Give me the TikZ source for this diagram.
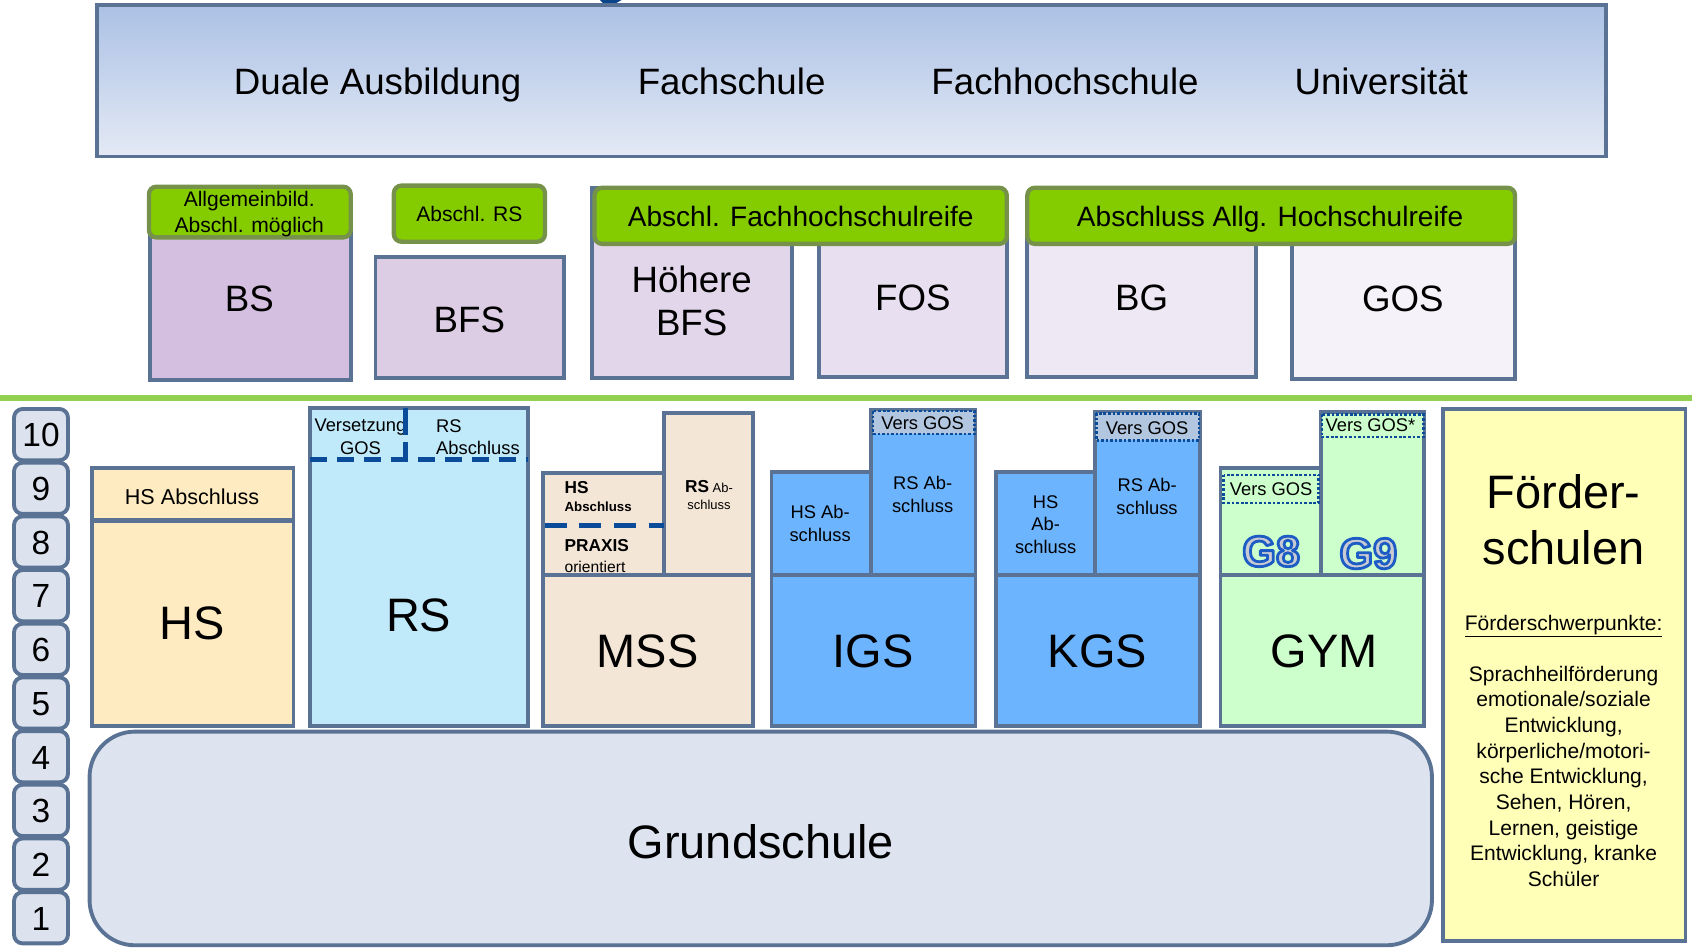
\documentclass[tikz,border=0pt]{standalone}
\usepackage{fontspec}
\setmainfont{Liberation Sans}
\usetikzlibrary{calc}
\definecolor{bord}{HTML}{5A7394}
\definecolor{labfill}{HTML}{84CC00}
\definecolor{labdraw}{HTML}{76924A}
\definecolor{topA}{HTML}{ABC1E5}
\definecolor{topB}{HTML}{E4EAF5}
\definecolor{cBS}{HTML}{D5BFE0}
\definecolor{cBFS}{HTML}{DCCCE4}
\definecolor{cHBFS}{HTML}{E2D6EB}
\definecolor{cFOS}{HTML}{E8E0F0}
\definecolor{cBG}{HTML}{EEE8F4}
\definecolor{cGOS}{HTML}{F5F3F9}
\definecolor{gline}{HTML}{92D050}
\definecolor{cnum}{HTML}{DCE3EF}
\definecolor{cHS}{HTML}{FFEBC1}
\definecolor{cRS}{HTML}{C0E9FA}
\definecolor{cMSS}{HTML}{F4E6D7}
\definecolor{cIGS}{HTML}{6DB4FF}
\definecolor{cVers}{HTML}{B3C6E0}
\definecolor{cGYM}{HTML}{CCFFCC}
\definecolor{cFoe}{HTML}{FFFFB8}
\definecolor{cGS}{HTML}{DDE4F0}
\definecolor{dblue}{HTML}{0B4C9A}
\definecolor{ggray}{HTML}{C9CAD3}
\newcommand\fs[2]{\fontsize{#1}{#2}\selectfont}
\newcommand\outl[1]{\special{pdf:literal direct 0.11 0.36 0.77 RG 2.6 w 1 j 2 Tr}#1\special{pdf:literal direct 0 Tr}}
\tikzset{
  box/.style={draw=bord, line width=3.6pt},
  lab/.style={draw=labdraw, fill=labfill, line width=4pt, rounded corners=7pt},
  numbox/.style={draw=bord, fill=cnum, line width=3.6pt, rounded corners=8pt},
  bluedash/.style={draw=dblue, line width=5pt, dash pattern=on 16pt off 9pt},
  versbox/.style={draw=dblue, line width=2.4pt, dash pattern=on 2.4pt off 1.8pt},
  big/.style={font=\fs{43.5}{52}},
  mid/.style={font=\fs{34}{40}},
  small/.style={font=\fs{17}{21}},
  gtxt/.style={font=\fs{40}{42}\bfseries, text=ggray},
  every node/.style={inner sep=0pt}
}
\begin{document}
\begin{tikzpicture}[x=1pt,y=-1pt]
\useasboundingbox (0,0) rectangle (1568,878.5);
% top fragment
\fill[dblue!90!black] (556,0) -- (576,0) -- (569,4) -- (560,4) -- cycle;
% top box
\draw[box, top color=topA, bottom color=topB] (90,5) rectangle (1488,145);
\node[mid, anchor=base] (duale) at (350,88) {Duale Ausbildung};
\node[mid, anchor=base] (fachs) at (678,88) {Fachschule};
\node[mid, anchor=base] (fhs) at (987,88) {Fachhochschule};
\node[mid, anchor=base] (uni) at (1280,88) {Universität};
% middle row
\draw[box, fill=cBS] (139,215) rectangle (325,352);
\draw[lab] (138,173) rectangle (325,220);
\node[font=\fs{19.5}{24}, align=center] (bslab) at (231,198) {Allgemeinbild.\\Abschl. möglich};
\node[mid] (bs) at (231,277) {BS};
\draw[box, fill=cBFS] (348,238) rectangle (523,350);
\draw[lab] (365,172) rectangle (505,224);
\node[font=\fs{19.5}{24}] (bfslab) at (435,198) {Abschl. RS};
\node[mid] (bfs) at (435,296) {BFS};
\draw[box, fill=cHBFS] (549,174) rectangle (734,350);
\draw[box, fill=cFOS] (759,215) rectangle (933,349);
\draw[lab] (551,174) rectangle (933,226);
\node[font=\fs{26}{30}, anchor=base] (fhlab) at (742,209.5) {Abschl. Fachhochschulreife};
\node[mid, align=center] (hbfs) at (641,279) {Höhere\\BFS};
\node[mid] (fos) at (846,276) {FOS};
\draw[box, fill=cBG] (952,215) rectangle (1164,349);
\draw[box, fill=cGOS] (1197,215) rectangle (1404,351);
\draw[lab] (952,174) rectangle (1404,226);
\node[font=\fs{26}{30}, anchor=base] (ahlab) at (1177,209.5) {Abschluss Allg. Hochschulreife};
\node[mid] (bg) at (1058,276) {BG};
\node[mid] (gos) at (1300,277) {GOS};
% green line
\draw[gline, line width=6pt] (0,369) -- (1568,369);
% grade numbers
\foreach \n in {1,...,10}{
  \pgfmathsetmacro\t{378+(10-\n)*49.75}
  \draw[numbox] (13,\t+1) rectangle (63,\t+48.5);
  \node[font=\fs{31}{34}] (n\n) at (38,\t+25.5) {\n};
}
% HS
\draw[box, fill=cHS] (85,434) rectangle (272,673);
\draw[bord, line width=4.5pt] (85,482) -- (272,482);
\node[font=\fs{20}{24}] (hsab) at (178,460) {HS Abschluss};
\node[big] (hs) at (178,578) {HS};
% RS
\draw[box, fill=cRS] (287,378) rectangle (489,673);
\node[small, align=center] (versg) at (334,405) {Versetzung\\GOS};
\node[small, align=left, anchor=west] (rsab) at (404,405) {RS\\Abschluss};
\draw[bluedash] (287,426) -- (489,426);
\draw[bluedash, dash pattern=on 25pt off 7pt] (376,378) -- (376,428);
\node[big] (rs) at (388,570) {RS};
% MSS
\draw[box, fill=cMSS] (615,383) rectangle (698,533);
\draw[box, fill=cMSS] (503,438) rectangle (615,533);
\draw[bluedash, dash pattern=on 20pt off 12pt] (505,487) -- (615,487);
\node[font=\fs{16}{18}\bfseries, anchor=west] (mhs) at (523,452) {HS};
\node[font=\fs{12.3}{14}\bfseries, anchor=west] (mab) at (523,470) {Abschluss};
\node[font=\fs{16}{18}\bfseries, anchor=west] (mpr) at (523,506) {PRAXIS};
\node[font=\fs{14.5}{16}, anchor=west] (mor) at (523,525) {orientiert};
\node[font=\fs{12}{14}] (mrs) at (657,451) {{\fs{16}{18}\bfseries RS} Ab-};
\node[font=\fs{12}{14}] (mrs2) at (657,468) {schluss};
\draw[box, fill=cMSS] (503,533) rectangle (698,673);
\node[big] (mss) at (600,604) {MSS};
% IGS
\draw[box, fill=cIGS] (715,437) rectangle (807,533);
\draw[box, fill=cIGS] (807,380) rectangle (904,533);
\draw[versbox, fill=cVers] (809,381) rectangle (903,402);
\node[small] (ivers) at (855,392) {Vers GOS};
\node[small, align=center] (ihs) at (760,485) {HS Ab-\\schluss};
\node[small, align=center] (irs) at (855,458) {RS Ab-\\schluss};
\draw[box, fill=cIGS] (715,533) rectangle (904,673);
\node[big] (igs) at (809,604) {IGS};
% KGS
\draw[box, fill=cIGS] (923,437) rectangle (1015,533);
\draw[box, fill=cIGS] (1015,382) rectangle (1112,533);
\draw[versbox, fill=cVers] (1016,383) rectangle (1111,408);
\node[small] (kvers) at (1063,397) {Vers GOS};
\node[small, align=center] (khs) at (969,486) {HS\\Ab-\\schluss};
\node[small, align=center] (krs) at (1063,460) {RS Ab-\\schluss};
\draw[box, fill=cIGS] (923,533) rectangle (1112,673);
\node[big] (kgs) at (1017,604) {KGS};
% GYM
\draw[box, fill=cGYM] (1131,434) rectangle (1224,533);
\draw[box, fill=cGYM] (1224,382) rectangle (1320,533);
\draw[versbox, fill=cGYM] (1134,440) rectangle (1222,466);
\node[small] (g8vers) at (1178,453) {Vers GOS};
\draw[versbox, fill=cGYM] (1225,384) rectangle (1319,405);
\node[small] (g9vers) at (1270,394) {Vers GOS*};
\node[gtxt] (g8) at (1178,511) {\outl{G8}};
\node[gtxt] (g9) at (1268,513) {\outl{G9}};
\draw[box, fill=cGYM] (1131,533) rectangle (1320,673);
\node[big] (gym) at (1227,604) {GYM};
% Foerderschulen
\draw[box, fill=cFoe] (1337,379) rectangle (1562,872);
\node[big, align=center] (foe) at (1449,482) {Förder-\\schulen};
\node[font=\fs{19.5}{23.7}] (fsp) at (1449,580) {\underline{Förderschwerpunkte:}};
\node[font=\fs{19.5}{23.75}, align=center, anchor=north] (fbody) at (1449,617) {Sprachheilförderung\\emotionale/soziale\\Entwicklung,\\körperliche/motori-\\sche Entwicklung,\\Sehen, Hören,\\Lernen, geistige\\Entwicklung, kranke\\Schüler};
% Grundschule
\draw[box, fill=cGS, rounded corners=42pt] (83,678) rectangle (1327,876);
\node[big] (gs) at (705,780) {Grundschule};
\end{tikzpicture}
\end{document}
